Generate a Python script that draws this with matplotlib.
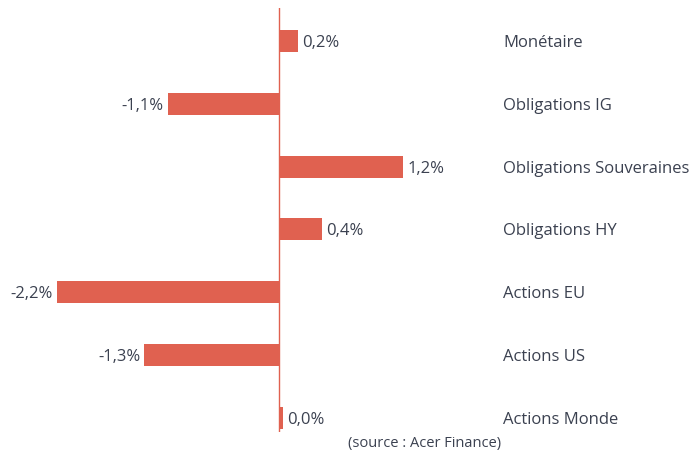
import matplotlib
matplotlib.use("Agg")
import matplotlib.pyplot as plt

categories = ["Monétaire", "Obligations IG", "Obligations Souveraines",
              "Obligations HY", "Actions EU", "Actions US", "Actions Monde"]
values = [0.19, -1.09, 1.22, 0.42, -2.18, -1.32, 0.04]
labels = ["0,2%", "-1,1%", "1,2%", "0,4%", "-2,2%", "-1,3%", "0,0%"]

BAR = "#E06150"
TXT = "#3b4150"

plt.rcParams["font.family"] = ["Open Sans", "DejaVu Sans"]

W, H = 697, 455
fig = plt.figure(figsize=(W / 100, H / 100), dpi=100)
ax = fig.add_axes([0, (H - 432) / H, 1, 424 / H])

px_unit = 102.0
zero_px = 279
ax.set_xlim(-zero_px / px_unit, (W - zero_px) / px_unit)
row0, step = 41, 62.8
ax.set_ylim((432 - row0) / step, (8 - row0) / step)

ypos = list(range(len(categories)))
ax.barh(ypos, values, height=0.35, color=BAR)
ax.axvline(0, color=BAR, lw=1)

pad = 4 / px_unit
for y, v, lab, cat in zip(ypos, values, labels, categories):
    if v >= 0:
        ax.text(v + pad, y, lab, ha="left", va="center_baseline", fontsize=12, color=TXT)
    else:
        ax.text(v - pad, y, lab, ha="right", va="center_baseline", fontsize=12, color=TXT)
    ax.text((503 - zero_px) / px_unit, y, cat, ha="left", va="center_baseline",
            fontsize=12, color=TXT)

ax.axis("off")

fig.text(425 / W, 1 - 443 / H, "(source : Acer Finance)", ha="center",
         va="center", fontsize=10.5, color=TXT)

fig.savefig("out.png", dpi=100)
